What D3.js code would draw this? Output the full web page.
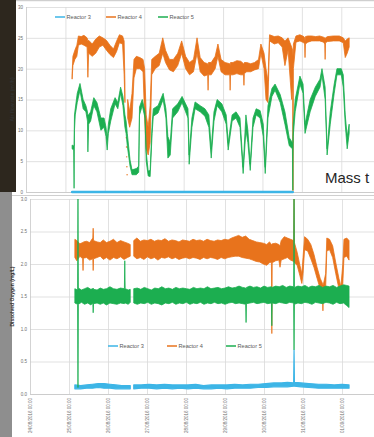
<!DOCTYPE html>
<html>
<head>
<meta charset="utf-8">
<script src="https://cdn.jsdelivr.net/npm/d3@7"></script>
<style>
  body { margin: 0; background: #fff; }
  svg { display: block; font-family: "Liberation Sans", Arial, sans-serif; }
</style>
</head>
<body>
<svg id="chart" width="374" height="437"></svg>
<script>
const seriesNames = ["Reactor 3", "Reactor 4", "Reactor 5"];
const seriesColors = ["#3db5e6", "#e8731c", "#1cae50"];

// days since the first date label
const xTickDays = [0, 1, 2, 3, 4, 5, 6, 7, 8];
const xTickLabels = [
  "24/08/2016 00:00", "25/08/2016 00:00", "26/08/2016 00:00",
  "27/08/2016 00:00", "28/08/2016 00:00", "29/08/2016 00:00",
  "30/08/2016 00:00", "31/08/2016 00:00", "01/09/2016 00:00"
];
const airTicks = [0, 5, 10, 15, 20, 25, 30];
const doTicks = [0, 0.5, 1, 1.5, 2, 2.5, 3];

// [day, low, high] : the noisy traces are drawn as their min/max band
const airR3 = [[1.17, 0, 0], [2.62, 0, 0], [2.63, null, null], [2.66, 0, 0], [6.77, 0, 0]];

const airR4 = [
  [1.17, 18.3, 19.2], [1.19, 20.5, 22.0], [1.24, 21.5, 23.0], [1.29, 22.0, 23.8],
  [1.33, 23.8, 25.3], [1.40, 24.0, 25.2], [1.47, 23.8, 25.4], [1.55, 23.5, 25.0],
  [1.57, 18.6, 24.5], [1.59, 22.5, 24.6], [1.68, 22.0, 24.0], [1.77, 22.5, 24.8],
  [1.86, 23.5, 25.3], [1.95, 23.8, 25.0], [2.04, 23.0, 24.6], [2.13, 22.3, 23.8],
  [2.22, 21.8, 23.2], [2.30, 22.8, 24.5], [2.37, 24.2, 25.5], [2.45, 24.0, 25.3],
  [2.49, 19.0, 24.5], [2.51, 14.5, 17.5], [2.53, null, null], [2.58, 12.0, 15.0],
  [2.63, 10.5, 13.0], [2.69, 12.0, 16.0], [2.74, 18.5, 21.5], [2.80, 20.0, 22.0],
  [2.89, 20.0, 21.8], [2.97, 19.5, 21.5], [3.01, 12.0, 20.0], [3.05, 7.0, 12.5],
  [3.10, 6.0, 10.5], [3.15, 8.0, 14.0], [3.19, 19.0, 21.5], [3.28, 20.0, 22.0],
  [3.38, 20.5, 22.5], [3.47, 22.5, 25.0], [3.54, 21.0, 23.0], [3.64, 19.8, 21.5],
  [3.74, 19.5, 21.5], [3.85, 20.5, 22.5], [3.95, 22.5, 24.5], [4.05, 20.0, 22.0],
  [4.15, 19.0, 21.0], [4.25, 19.5, 21.5], [4.34, 22.5, 25.0], [4.42, 19.5, 21.8],
  [4.52, 18.8, 21.0], [4.61, 19.0, 20.8], [4.62, 16.5, 20.5], [4.63, 19.0, 21.0],
  [4.70, 19.0, 21.0], [4.80, 20.0, 22.0], [4.87, 22.0, 24.0], [4.95, 19.5, 21.5],
  [5.05, 19.0, 21.0], [5.17, 19.0, 20.8], [5.18, 16.5, 20.5], [5.19, 19.0, 21.0],
  [5.25, 19.0, 21.0], [5.35, 19.2, 21.3], [5.45, 19.0, 21.2], [5.52, 19.0, 20.8],
  [5.53, 17.3, 20.8], [5.54, 19.2, 21.0], [5.60, 19.5, 21.0], [5.70, 19.5, 20.8],
  [5.80, 19.8, 21.0], [5.90, 20.0, 21.5], [5.96, 22.5, 24.0], [6.04, 20.0, 22.5],
  [6.09, 15.0, 20.0], [6.14, 14.5, 18.0], [6.18, 24.5, 25.5], [6.30, 24.0, 25.2],
  [6.40, 24.2, 25.3], [6.50, 23.5, 25.0], [6.57, 20.5, 24.5], [6.65, 23.0, 25.0],
  [6.74, 15.0, 23.5], [6.765, 18.0, 23.0], [6.775, 0.2, 22.0], [6.785, 20.0, 24.0],
  [6.85, 24.3, 25.3], [6.95, 24.5, 25.5], [7.05, 24.2, 25.2], [7.07, 24.0, 25.0],
  [7.08, 21.8, 24.5], [7.09, 24.0, 25.2], [7.15, 24.3, 25.3], [7.25, 24.5, 25.3],
  [7.35, 24.5, 25.2], [7.45, 24.5, 25.3], [7.55, 24.3, 25.1], [7.58, 24.0, 25.0],
  [7.59, 21.5, 24.8], [7.60, 24.2, 25.0], [7.65, 24.4, 25.2], [7.80, 24.5, 25.3],
  [7.95, 24.5, 25.3], [8.05, 24.2, 25.0], [8.10, 21.8, 24.5], [8.15, 22.5, 24.8],
  [8.20, 23.5, 25.0]
];

const airR4Dots = [[2.545, 8.8], [2.55, 7.3], [2.555, 5.7], [2.56, 4.1], [2.565, 2.8]];

const airR5 = [
  [1.17, 7.0, 7.6], [1.21, 6.8, 7.5], [1.22, 0.6, 7.5], [1.23, 10.0, 12.5],
  [1.25, 12.5, 13.5], [1.30, 14.5, 16.0], [1.37, 16.5, 17.6], [1.45, 13.5, 15.0],
  [1.52, 13.0, 14.0], [1.56, 11.5, 13.0], [1.57, 6.5, 12.5], [1.59, 11.0, 12.5],
  [1.64, 11.5, 13.0], [1.72, 14.0, 15.3], [1.80, 13.0, 14.5], [1.90, 10.0, 12.0],
  [1.98, 10.5, 12.0], [2.03, 9.0, 10.5], [2.06, 6.8, 8.5], [2.09, 9.5, 11.0],
  [2.15, 11.5, 13.5], [2.26, 14.3, 15.3], [2.33, 13.5, 14.5], [2.40, 16.0, 17.0],
  [2.46, 14.0, 15.5], [2.51, 10.5, 12.5], [2.54, 9.5, 11.5], [2.57, 7.5, 9.5],
  [2.64, 4.2, 5.2], [2.69, 2.8, 3.6], [2.80, 2.8, 3.8], [2.86, 3.2, 4.2],
  [2.88, 12.5, 13.8], [2.95, 14.0, 15.0], [3.02, 12.0, 13.0], [3.05, 5.0, 6.5],
  [3.10, 2.6, 3.4], [3.15, 2.5, 3.5], [3.20, 9.5, 11.0], [3.23, 12.3, 13.5],
  [3.35, 12.8, 14.0], [3.48, 15.0, 16.0], [3.55, 12.0, 13.5], [3.60, 5.5, 9.0],
  [3.66, 6.0, 8.0], [3.72, 12.0, 13.5], [3.85, 13.0, 14.3], [3.96, 14.5, 15.5],
  [4.05, 13.0, 14.3], [4.11, 12.0, 13.5], [4.14, 4.5, 6.0], [4.21, 10.5, 12.0],
  [4.29, 13.5, 14.6], [4.42, 13.0, 14.0], [4.54, 12.3, 13.5], [4.64, 10.5, 12.5],
  [4.70, 5.5, 7.0], [4.77, 11.5, 13.0], [4.85, 14.0, 15.0], [4.97, 13.0, 14.3],
  [5.08, 11.0, 12.5], [5.13, 6.8, 8.0], [5.23, 11.5, 12.5], [5.33, 12.0, 13.0],
  [5.43, 10.5, 12.0], [5.51, 3.0, 4.0], [5.58, 10.0, 12.5], [5.63, 8.0, 10.0],
  [5.69, 3.5, 4.5], [5.76, 10.5, 12.0], [5.84, 12.5, 13.5], [5.94, 12.0, 13.2],
  [6.02, 9.0, 11.0], [6.07, 3.0, 4.0], [6.14, 12.0, 14.0], [6.24, 15.5, 16.8],
  [6.32, 16.5, 17.5], [6.45, 14.5, 15.8], [6.57, 11.0, 13.0], [6.68, 7.5, 8.8],
  [6.76, 7.0, 8.0], [6.77, 0.3, 8.0], [6.78, 9.0, 11.0], [6.83, 13.0, 15.0],
  [6.95, 17.5, 18.8], [7.03, 16.0, 17.5], [7.08, 9.5, 11.0], [7.21, 13.0, 15.0],
  [7.34, 15.5, 17.0], [7.46, 17.0, 18.3], [7.51, 19.0, 20.0], [7.59, 15.0, 17.0],
  [7.64, 6.0, 7.0], [7.72, 11.0, 13.0], [7.82, 16.0, 17.5], [7.89, 19.0, 20.0],
  [8.00, 19.0, 20.0], [8.05, 17.0, 19.0], [8.10, 11.0, 12.5], [8.15, 7.0, 9.0],
  [8.20, 9.5, 11.0]
];

const doR3 = [
  [1.15, 0.08, 0.14], [1.30, 0.08, 0.13], [1.45, 0.09, 0.14], [1.60, 0.09, 0.15],
  [1.75, 0.10, 0.16], [1.90, 0.09, 0.16], [2.05, 0.09, 0.15], [2.20, 0.08, 0.14],
  [2.35, 0.08, 0.13], [2.57, 0.08, 0.13], [2.61, null, null], [2.66, 0.08, 0.14],
  [2.85, 0.09, 0.14], [3.05, 0.09, 0.15], [3.25, 0.08, 0.14], [3.45, 0.09, 0.15],
  [3.65, 0.08, 0.14], [3.85, 0.09, 0.14], [4.05, 0.08, 0.14], [4.25, 0.09, 0.15],
  [4.45, 0.08, 0.13], [4.65, 0.08, 0.14], [4.85, 0.09, 0.14], [5.05, 0.08, 0.14],
  [5.25, 0.09, 0.15], [5.45, 0.09, 0.14], [5.65, 0.09, 0.15], [5.85, 0.10, 0.15],
  [6.05, 0.10, 0.16], [6.25, 0.11, 0.17], [6.45, 0.11, 0.17], [6.60, 0.11, 0.18],
  [6.76, 0.12, 0.17], [6.77, 0.12, 0.68], [6.78, 0.12, 0.18], [6.95, 0.11, 0.17],
  [7.15, 0.10, 0.16], [7.40, 0.09, 0.15], [7.60, 0.09, 0.15], [7.80, 0.09, 0.14],
  [8.00, 0.09, 0.15], [8.18, 0.09, 0.14]
];

const doR4 = [
  [1.15, 2.10, 2.38], [1.20, 2.05, 2.36], [1.28, 2.12, 2.31], [1.35, 2.08, 2.33],
  [1.36, 1.90, 2.32], [1.37, 2.09, 2.34], [1.45, 2.10, 2.35], [1.53, 2.06, 2.33],
  [1.61, 2.08, 2.40], [1.62, 1.90, 2.55], [1.63, 2.08, 2.36], [1.72, 2.10, 2.34],
  [1.80, 2.12, 2.33], [1.88, 2.07, 2.37], [1.96, 2.10, 2.33], [2.05, 2.06, 2.35],
  [2.14, 2.10, 2.38], [2.23, 2.08, 2.33], [2.32, 2.11, 2.36], [2.41, 2.07, 2.34],
  [2.50, 2.10, 2.32], [2.57, 2.12, 2.30], [2.61, null, null], [2.66, 2.12, 2.36],
  [2.74, 2.08, 2.40], [2.83, 2.10, 2.35], [2.92, 2.07, 2.37], [3.01, 2.11, 2.36],
  [3.10, 2.08, 2.38], [3.19, 2.10, 2.35], [3.28, 2.06, 2.37], [3.37, 2.10, 2.36],
  [3.46, 2.09, 2.39], [3.55, 2.11, 2.35], [3.64, 2.08, 2.37], [3.73, 2.10, 2.36],
  [3.82, 2.07, 2.34], [3.91, 2.09, 2.37], [4.00, 2.10, 2.36], [4.09, 2.08, 2.35],
  [4.18, 2.10, 2.38], [4.27, 2.09, 2.36], [4.36, 2.07, 2.37], [4.45, 2.10, 2.35],
  [4.54, 2.08, 2.38], [4.63, 2.10, 2.36], [4.72, 2.09, 2.35], [4.81, 2.07, 2.37],
  [4.90, 2.10, 2.36], [4.99, 2.08, 2.38], [5.08, 2.10, 2.37], [5.17, 2.11, 2.40],
  [5.26, 2.12, 2.42], [5.35, 2.12, 2.44], [5.44, 2.10, 2.41], [5.53, 2.09, 2.43],
  [5.62, 2.08, 2.38], [5.71, 2.06, 2.36], [5.80, 2.04, 2.34], [5.89, 2.03, 2.33],
  [5.98, 2.00, 2.32], [6.07, 1.98, 2.30], [6.14, 2.02, 2.34], [6.19, 2.03, 2.30],
  [6.20, 0.93, 2.30], [6.21, 2.02, 2.31], [6.30, 2.05, 2.32], [6.38, 2.06, 2.30],
  [6.41, 1.95, 2.28], [6.44, 2.06, 2.36], [6.52, 2.08, 2.42], [6.60, 2.10, 2.40],
  [6.68, 2.06, 2.38], [6.76, 2.04, 2.36], [6.77, 2.04, 3.00], [6.78, 2.02, 2.33],
  [6.85, 1.98, 2.18], [6.92, 1.82, 1.98], [6.97, 1.70, 1.85], [7.00, 1.85, 2.10],
  [7.04, 2.22, 2.42], [7.12, 2.20, 2.38], [7.20, 2.08, 2.30], [7.28, 1.95, 2.15],
  [7.36, 1.78, 1.95], [7.44, 1.62, 1.78], [7.50, 1.55, 1.70], [7.51, 1.28, 1.68],
  [7.52, 1.52, 1.68], [7.58, 1.62, 1.85], [7.61, 2.20, 2.40], [7.68, 2.22, 2.38],
  [7.76, 2.10, 2.28], [7.84, 1.85, 2.02], [7.92, 1.62, 1.78], [7.97, 1.52, 1.65],
  [8.02, 1.70, 2.00], [8.05, 2.10, 2.38], [8.12, 2.12, 2.40], [8.18, 2.06, 2.36]
];

const doR5 = [
  [1.15, 1.40, 1.62], [1.22, 1.38, 1.60], [1.23, 0.10, 3.00], [1.24, 1.38, 1.63],
  [1.32, 1.41, 1.60], [1.40, 1.38, 1.62], [1.48, 1.40, 1.64], [1.56, 1.37, 1.61],
  [1.61, 1.40, 1.62], [1.62, 1.25, 1.63], [1.63, 1.39, 1.61], [1.72, 1.40, 1.60],
  [1.80, 1.38, 1.63], [1.88, 1.40, 1.61], [1.96, 1.37, 1.62], [2.05, 1.40, 1.65],
  [2.14, 1.39, 1.62], [2.23, 1.38, 1.61], [2.32, 1.40, 1.63], [2.42, 1.39, 1.62],
  [2.43, 1.40, 2.05], [2.44, 1.40, 1.62], [2.52, 1.38, 1.60], [2.57, 1.41, 1.61],
  [2.61, null, null], [2.66, 1.40, 1.62], [2.75, 1.38, 1.63], [2.84, 1.40, 1.61],
  [2.93, 1.39, 1.64], [3.02, 1.41, 1.62], [3.11, 1.38, 1.60], [3.20, 1.40, 1.63],
  [3.29, 1.39, 1.62], [3.38, 1.37, 1.65], [3.47, 1.40, 1.62], [3.56, 1.39, 1.63],
  [3.65, 1.41, 1.61], [3.74, 1.38, 1.64], [3.83, 1.40, 1.62], [3.92, 1.39, 1.63],
  [4.01, 1.41, 1.62], [4.10, 1.38, 1.61], [4.19, 1.40, 1.64], [4.28, 1.39, 1.62],
  [4.37, 1.41, 1.63], [4.46, 1.38, 1.62], [4.55, 1.40, 1.65], [4.64, 1.39, 1.62],
  [4.73, 1.41, 1.63], [4.82, 1.39, 1.64], [4.91, 1.40, 1.62], [5.00, 1.38, 1.63],
  [5.09, 1.40, 1.65], [5.18, 1.41, 1.63], [5.27, 1.39, 1.64], [5.36, 1.40, 1.66],
  [5.45, 1.39, 1.64], [5.53, 1.38, 1.63], [5.54, 1.10, 1.62], [5.55, 1.39, 1.64],
  [5.64, 1.40, 1.66], [5.73, 1.41, 1.64], [5.82, 1.39, 1.65], [5.91, 1.40, 1.63],
  [6.00, 1.41, 1.66], [6.09, 1.39, 1.64], [6.19, 1.40, 1.65], [6.20, 1.05, 1.63],
  [6.21, 1.40, 1.64], [6.30, 1.39, 1.66], [6.39, 1.41, 1.65], [6.48, 1.40, 1.67],
  [6.57, 1.39, 1.64], [6.66, 1.41, 1.66], [6.76, 1.40, 1.65], [6.77, 0.68, 3.00],
  [6.78, 1.38, 1.64], [6.87, 1.40, 1.66], [6.96, 1.39, 1.65], [7.05, 1.41, 1.67],
  [7.14, 1.40, 1.64], [7.23, 1.38, 1.66], [7.32, 1.41, 1.65], [7.41, 1.40, 1.67],
  [7.50, 1.39, 1.64], [7.59, 1.41, 1.66], [7.68, 1.40, 1.65], [7.77, 1.38, 1.67],
  [7.86, 1.41, 1.64], [7.95, 1.39, 1.66], [8.04, 1.40, 1.68], [8.12, 1.36, 1.67],
  [8.18, 1.33, 1.66]
];

const W = 374, H = 437;
const svg = d3.select("#chart");

// photo surroundings: slide edge on the left
svg.append("rect").attr("width", W).attr("height", H).attr("fill", "#fff");
svg.append("rect").attr("x", 0).attr("y", 0).attr("width", 16).attr("height", 192).attr("fill", "#2d271e");
svg.append("rect").attr("x", 0).attr("y", 192).attr("width", 12).attr("height", H - 192).attr("fill", "#8e8e8e");

// chart panels
svg.append("rect").attr("x", 16).attr("y", 0).attr("width", W - 16).attr("height", 195).attr("fill", "#fff");
svg.append("line").attr("x1", 16).attr("x2", W).attr("y1", 0.7).attr("y2", 0.7).attr("stroke", "#c4c4c4");

function drawChart(cfg) {
  const {x, y, ticks, tickFormat, series, legendX, legendY, title, labels, id} = cfg;
  const g = svg.append("g");
  const x0 = x.range()[0];
  const [yBottom, yTop] = y.range();

  g.append("g")
    .attr("transform", `translate(${x0},0)`)
    .call(d3.axisLeft(y).tickValues(ticks).tickSize(-(W - x0)).tickPadding(3).tickFormat(tickFormat))
    .call(a => a.select(".domain").remove())
    .call(a => a.selectAll("line").attr("stroke", d => d === 0 ? "#bfbfbf" : "#d9d9d9").attr("stroke-width", 0.8))
    .call(a => a.selectAll("text").attr("font-size", 4.5).attr("fill", "#6e6e6e").attr("font-family", null));

  const xAxis = g.append("g")
    .attr("transform", `translate(0,${yBottom})`)
    .call(d3.axisBottom(x).tickValues(xTickDays).tickSize(-(yBottom - yTop)).tickPadding(3)
      .tickFormat((d, i) => labels ? labels[i] : ""))
    .call(a => a.select(".domain").remove())
    .call(a => a.selectAll("line").attr("stroke", d => d === 0 ? "#c8c8c8" : "#d9d9d9").attr("stroke-width", 0.8));
  xAxis.selectAll("text")
    .attr("font-size", 4.5).attr("fill", "#6e6e6e").attr("font-family", null)
    .attr("transform", "rotate(-90)")
    .attr("x", -4).attr("y", 0).attr("dy", "0.35em")
    .attr("text-anchor", "end");

  g.append("text")
    .attr("transform", `translate(13.5,${(yTop + yBottom) / 2}) rotate(-90)`)
    .attr("text-anchor", "middle")
    .attr("font-size", 5).attr("font-weight", "bold").attr("fill", "#333")
    .text(title);

  svg.append("clipPath").attr("id", id)
    .append("rect").attr("x", x0).attr("y", yTop).attr("width", W - x0).attr("height", yBottom - yTop + 2);

  const plot = g.append("g").attr("clip-path", `url(#${id})`);
  const band = d3.area()
    .defined(d => d[1] != null)
    .x(d => x(d[0]))
    .y0(d => y(d[1]))
    .y1(d => y(d[2]));

  series.forEach((s, i) => {
    plot.append("path")
      .attr("d", band(s.data))
      .attr("fill", seriesColors[i])
      .attr("stroke", seriesColors[i])
      .attr("stroke-width", s.width || 0.8)
      .attr("stroke-linejoin", "round");
    if (s.dots) {
      plot.selectAll(null).data(s.dots).join("circle")
        .attr("cx", d => x(d[0])).attr("cy", d => y(d[1]))
        .attr("r", 0.7).attr("fill", seriesColors[i]);
    }
  });

  const leg = g.append("g");
  seriesNames.forEach((name, i) => {
    leg.append("line")
      .attr("x1", legendX[i]).attr("x2", legendX[i] + 10)
      .attr("y1", legendY).attr("y2", legendY)
      .attr("stroke", seriesColors[i]).attr("stroke-width", 1.5);
    leg.append("text")
      .attr("x", legendX[i] + 11.5).attr("y", legendY).attr("dy", "0.35em")
      .attr("font-size", 5.6).attr("fill", "#595959")
      .text(name);
  });
}

// top: air flow
drawChart({
  id: "clipAir",
  x: d3.scaleLinear().domain([0, 8.83]).range([26, W]),
  y: d3.scaleLinear().domain([0, 30]).range([192, 7]),
  ticks: airTicks,
  tickFormat: d3.format("d"),
  title: "Air flow rate (m³/h)",
  legendX: [55, 106, 158],
  legendY: 17,
  labels: null,
  series: [
    {data: airR3, width: 2.4},
    {data: airR4, dots: airR4Dots},
    {data: airR5}
  ]
});

// bottom panel lies over the top chart's date labels
svg.append("rect").attr("x", 12).attr("y", 195).attr("width", W - 12).attr("height", H - 195).attr("fill", "#fff");
svg.append("line").attr("x1", 12).attr("x2", W).attr("y1", 195.5).attr("y2", 195.5).attr("stroke", "#cfcfcf");

drawChart({
  id: "clipDo",
  x: d3.scaleLinear().domain([0, 8.82]).range([30, W]),
  y: d3.scaleLinear().domain([0, 3]).range([394, 199]),
  ticks: doTicks,
  tickFormat: d3.format(".1f"),
  title: "Dissolved Oxygen (mg/L)",
  legendX: [108, 167, 226],
  legendY: 346,
  labels: xTickLabels,
  series: [
    {data: doR3, width: 1.2},
    {data: doR4},
    {data: doR5}
  ]
});

// slide text showing beside the charts
svg.append("text")
  .attr("x", 325).attr("y", 183)
  .attr("font-size", 15).attr("fill", "#262626")
  .text("Mass t");
</script>
</body>
</html>
